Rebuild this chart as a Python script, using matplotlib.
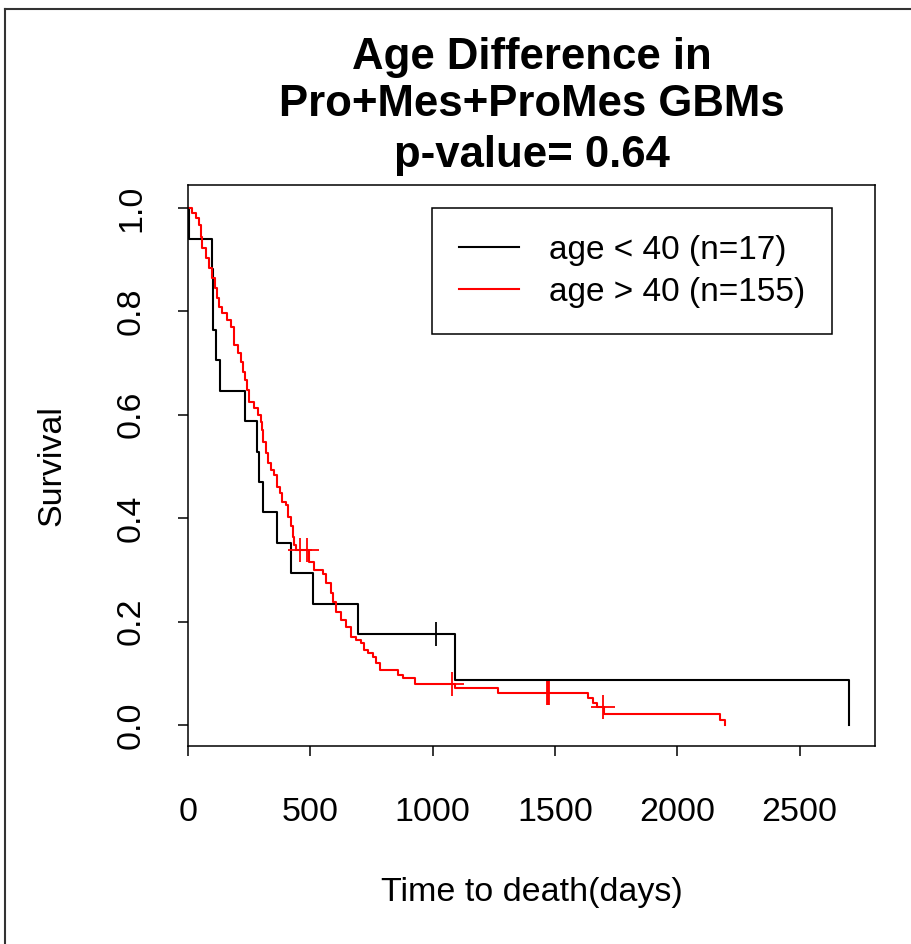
import matplotlib
matplotlib.use("Agg")
import matplotlib.pyplot as plt
from matplotlib.lines import Line2D

plt.rcParams['font.family'] = ['Liberation Sans', 'DejaVu Sans']

title_lines = ["Age Difference in", "Pro+Mes+ProMes GBMs", "p-value= 0.64"]
x_label = "Time to death(days)"
y_label = "Survival"
legend_labels = ["age < 40 (n=17)", "age > 40 (n=155)"]
x_ticks = [0, 500, 1000, 1500, 2000, 2500]
y_ticks = [0.0, 0.2, 0.4, 0.6, 0.8, 1.0]

# Kaplan-Meier step curve, age < 40
young_times = [0, 3, 97, 104, 115, 132, 232, 282, 292, 306, 364, 419, 510, 695, 1090, 2700]
young_surv = [1.0, 0.941, 0.882, 0.765, 0.706, 0.647, 0.588, 0.529, 0.471, 0.412,
              0.353, 0.294, 0.235, 0.176, 0.088, 0.0]
young_cens_t = [1015]
young_cens_s = [0.176]

# Kaplan-Meier step curve, age > 40
old_times = [0, 18, 32, 45, 52, 59, 72, 86, 99, 109, 117, 127, 140, 158, 176, 189, 203,
             217, 224, 234, 241, 251, 271, 285, 299, 303, 306, 319, 326, 340, 353, 364,
             374, 383, 401, 410, 421, 428, 435, 442, 493, 517, 551, 565, 585, 592, 606,
             626, 646, 667, 687, 708, 721, 735, 756, 769, 783, 858, 878, 926, 1090, 1267,
             1635, 1656, 1670, 1700, 2174, 2195]
old_surv = [1.0, 0.99, 0.98, 0.967, 0.944, 0.922, 0.903, 0.883, 0.864, 0.845, 0.825, 0.809,
            0.796, 0.783, 0.770, 0.735, 0.719, 0.703, 0.683, 0.667, 0.648, 0.625, 0.613,
            0.600, 0.587, 0.571, 0.548, 0.526, 0.506, 0.493, 0.484, 0.461, 0.448, 0.432,
            0.426, 0.403, 0.384, 0.364, 0.348, 0.339, 0.316, 0.300, 0.293, 0.274, 0.255,
            0.238, 0.219, 0.203, 0.190, 0.171, 0.165, 0.158, 0.145, 0.139, 0.132, 0.119,
            0.106, 0.097, 0.090, 0.079, 0.071, 0.061, 0.052, 0.043, 0.034, 0.021, 0.010, 0.0]
old_cens_t = [458, 487, 1080, 1468, 1472, 1476, 1695]
old_cens_s = [0.339, 0.339, 0.079, 0.061, 0.061, 0.061, 0.034]

W, H = 912, 944
fig = plt.figure(figsize=(W / 100, H / 100), dpi=100)
L, R, T, B = 188, 875, 185, 746
ax = fig.add_axes([L / W, 1 - B / H, (R - L) / W, (B - T) / H])

lw = 1.5
ax.plot(young_times, young_surv, drawstyle='steps-post', color='black', lw=lw,
        label=legend_labels[0])
ax.plot(old_times, old_surv, drawstyle='steps-post', color='red', lw=lw,
        label=legend_labels[1])
ax.plot(young_cens_t, young_cens_s, ls='none', marker='+', ms=17, mew=1.3, color='black')
ax.plot(old_cens_t, old_cens_s, ls='none', marker='+', ms=17, mew=1.3, color='red')

ax.set_xlim(0, 2808)
ax.set_ylim(-0.0406, 1.0445)
ax.set_xticks(x_ticks)
ax.set_xticklabels([str(t) for t in x_ticks])
ax.set_yticks(y_ticks)
ax.set_yticklabels([f"{t:.1f}" for t in y_ticks], rotation=90, va='center')

fs = 24.5
ax.tick_params(axis='both', direction='out', length=7.5, width=1.1, labelsize=fs,
               colors='black')
ax.tick_params(axis='x', pad=29)
ax.tick_params(axis='y', pad=22)
for s in ax.spines.values():
    s.set_linewidth(1.1)
    s.set_color('black')

ax.set_xlabel(x_label, fontsize=fs)
ax.xaxis.set_label_coords(0.5, -(892 - B) / (B - T))
ax.xaxis.label.set_va('center')
ax.set_ylabel(y_label, fontsize=fs)
ax.yaxis.set_label_coords(-(L - 52) / (R - L), 0.5)
ax.yaxis.label.set_va('center')

cx = (L + R) / 2 / W
for txt, yc in zip(title_lines, [58, 105, 155]):
    fig.text(cx, 1 - yc / H, txt, ha='center', va='center', fontsize=31.5,
             fontweight='bold')

leg = ax.legend(loc='upper right', bbox_to_anchor=(832 / W, 1 - 208 / H),
                bbox_transform=fig.transFigure, borderaxespad=0, fontsize=24,
                handlelength=1.8, handletextpad=0.9, labelspacing=0.33,
                borderpad=0.8, fancybox=False, framealpha=1, edgecolor='black')
leg.get_frame().set_linewidth(1.1)

fig.add_artist(Line2D([5 / W, 5 / W], [0, 1 - 9 / H], transform=fig.transFigure,
                      color='#333333', lw=1.5))
fig.add_artist(Line2D([5 / W, 1], [1 - 9 / H, 1 - 9 / H], transform=fig.transFigure,
                      color='#333333', lw=1.5))

fig.savefig("out.png", dpi=100)
